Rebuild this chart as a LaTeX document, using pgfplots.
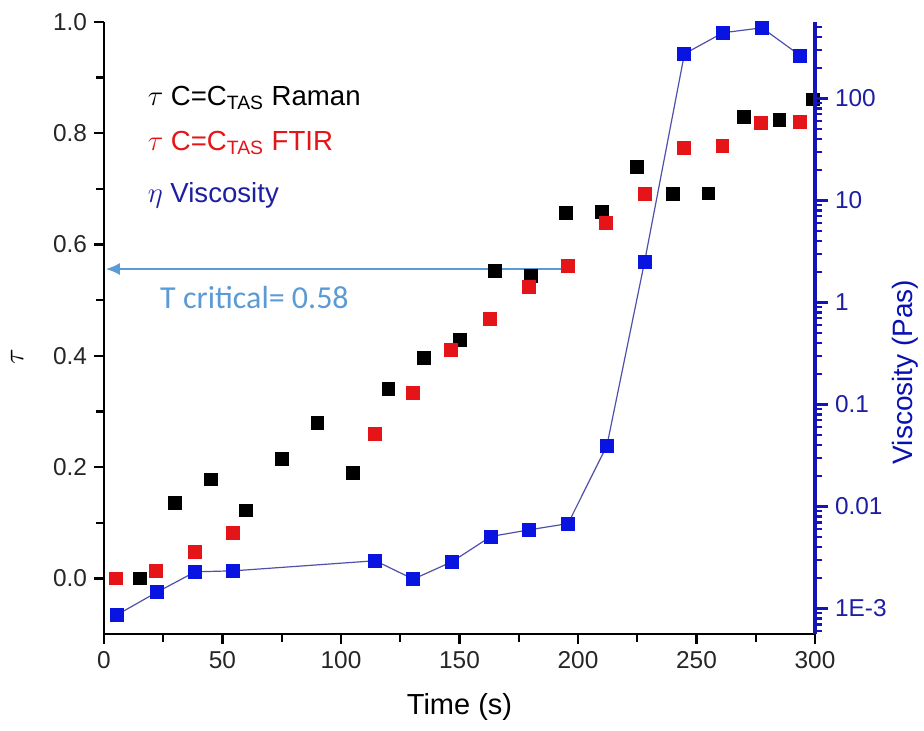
\documentclass[border=0pt]{standalone}
\usepackage{pgfplots}
\pgfplotsset{compat=1.18}
\usepackage{fontspec}
\setmainfont{Liberation Sans}
\newfontfamily\calfont{Carlito}
\usetikzlibrary{arrows.meta}
\definecolor{myred}{RGB}{228,20,24}
\definecolor{myblue}{RGB}{10,20,225}
\definecolor{lineblue}{RGB}{80,80,170}
\definecolor{axblue}{RGB}{20,20,185}
\definecolor{lblblue}{RGB}{30,30,165}
\definecolor{arrowblue}{RGB}{91,155,213}
\begin{document}
\begin{tikzpicture}
\begin{axis}[
  scale only axis, width=355.5pt, height=306pt,
  xmin=0, xmax=300, ymin=-0.1, ymax=1.0,
  axis x line*=bottom, axis y line*=left,
  axis line style={-, line width=1.3pt, black},
  tick align=outside,
  xtick={0,50,100,150,200,250,300}, minor xtick={25,75,125,175,225,275},
  ytick={0,0.2,0.4,0.6,0.8,1.0}, minor ytick={0.1,0.3,0.5,0.7,0.9},
  major tick length=5pt, minor tick length=4pt,
  every tick/.append style={line width=1.2pt, black},
  /pgf/number format/assume math mode=true,
  yticklabel style={/pgf/number format/.cd, fixed, fixed zerofill, precision=1},
  ticklabel style={font=\fontsize{12.2}{14}\selectfont, text=black!85},
  xlabel={Time (s)}, ylabel={$\tau$},
  every axis x label/.style={at={(axis description cs:0.5,-0.119)}, anchor=center, font=\fontsize{14.5}{16}\selectfont},
  every axis y label/.style={at={(axis description cs:-0.122,0.453)}, anchor=center, inner sep=0pt, rotate=90, font=\fontsize{15}{17}\selectfont},
  clip=false,
]
\addplot[only marks, mark=square*, mark size=3.2pt, mark options={fill=black, draw=black}] coordinates {
(15,0.0) (30,0.135) (45,0.178) (60,0.122) (75,0.214) (90,0.280) (105,0.190)
(120,0.340) (135,0.396) (150,0.428) (165,0.552) (180,0.544) (195,0.657)
(210,0.659) (225,0.740) (240,0.691) (255,0.692) (270,0.830) (285,0.824) (299,0.861)
};
\addplot[only marks, mark=square*, mark size=3.2pt, mark options={fill=myred, draw=myred}] coordinates {
(5,0.0) (21.9,0.014) (38.3,0.048) (54.3,0.082) (114.2,0.260) (130.2,0.333)
(146.4,0.411) (162.9,0.466) (179.2,0.524) (195.6,0.562) (211.8,0.639)
(228.1,0.691) (244.6,0.774) (260.9,0.777) (277.3,0.818) (293.7,0.821)
};
\draw[arrowblue, line width=0.8pt, -{Latex[length=7pt,width=6pt]}] (axis cs:196,0.556) -- (axis cs:0.8,0.556);
\node[anchor=center, text=arrowblue, font=\calfont\fontsize{16}{18}\selectfont] at (axis cs:63.5,0.505) {T critical= 0.58};
\node[anchor=west, text=black, font=\fontsize{13.8}{15}\selectfont] at (axis cs:15.5,0.864) {$\tau$ C=C\textsubscript{TAS} Raman};
\node[anchor=west, text=myred, font=\fontsize{13.8}{15}\selectfont] at (axis cs:15.5,0.783) {$\tau$ C=C\textsubscript{TAS} FTIR};
\node[anchor=west, text=lblblue, font=\fontsize{13.8}{15}\selectfont] at (axis cs:15.5,0.688) {$\eta$ Viscosity};
\end{axis}
\begin{axis}[
  scale only axis, width=355.5pt, height=306pt,
  xmin=0, xmax=300, ymode=log, ymin=5.6234e-4, ymax=562.34,
  axis x line=none, axis y line*=right,
  axis line style={-, line width=1.7pt, axblue},
  tick align=outside,
  ytick={1e-3,1e-2,1e-1,1,10,100}, yticklabels={1E-3,0.01,0.1,1,10,100},
  minor ytick={6e-4,7e-4,8e-4,9e-4,2e-3,3e-3,4e-3,5e-3,6e-3,7e-3,8e-3,9e-3,
    2e-2,3e-2,4e-2,5e-2,6e-2,7e-2,8e-2,9e-2,0.2,0.3,0.4,0.5,0.6,0.7,0.8,0.9,
    2,3,4,5,6,7,8,9,20,30,40,50,60,70,80,90,200,300,400,500},
  major tick length=6.5pt, minor tick length=3.5pt,
  every tick/.append style={line width=1.2pt, axblue},
  yticklabel style={text=lblblue, font=\fontsize{12.2}{14}\selectfont},
  ylabel={Viscosity (Pas)},
  every axis y label/.style={at={(axis description cs:1.127,0.428)}, anchor=center, rotate=90, text=myblue!80!black, font=\fontsize{14}{16}\selectfont},
  clip=false,
]
\addplot[lineblue, line width=0.6pt, mark=square*, mark size=3.2pt, mark options={fill=myblue, draw=myblue, solid}] coordinates {
(5.6,8.7e-4) (22.2,1.44e-3) (38.5,2.29e-3) (54.6,2.34e-3) (114.5,2.94e-3)
(130.5,1.94e-3) (146.8,2.87e-3) (163.2,5.08e-3) (179.3,5.9e-3) (195.8,6.8e-3)
(212.2,0.0396) (228.1,2.52) (244.9,274) (261.2,441) (277.6,493) (293.8,263)
};
\end{axis}
\pgfresetboundingbox
\useasboundingbox (-52pt,-48.5pt) rectangle (410pt,317pt);
\end{tikzpicture}
\end{document}
